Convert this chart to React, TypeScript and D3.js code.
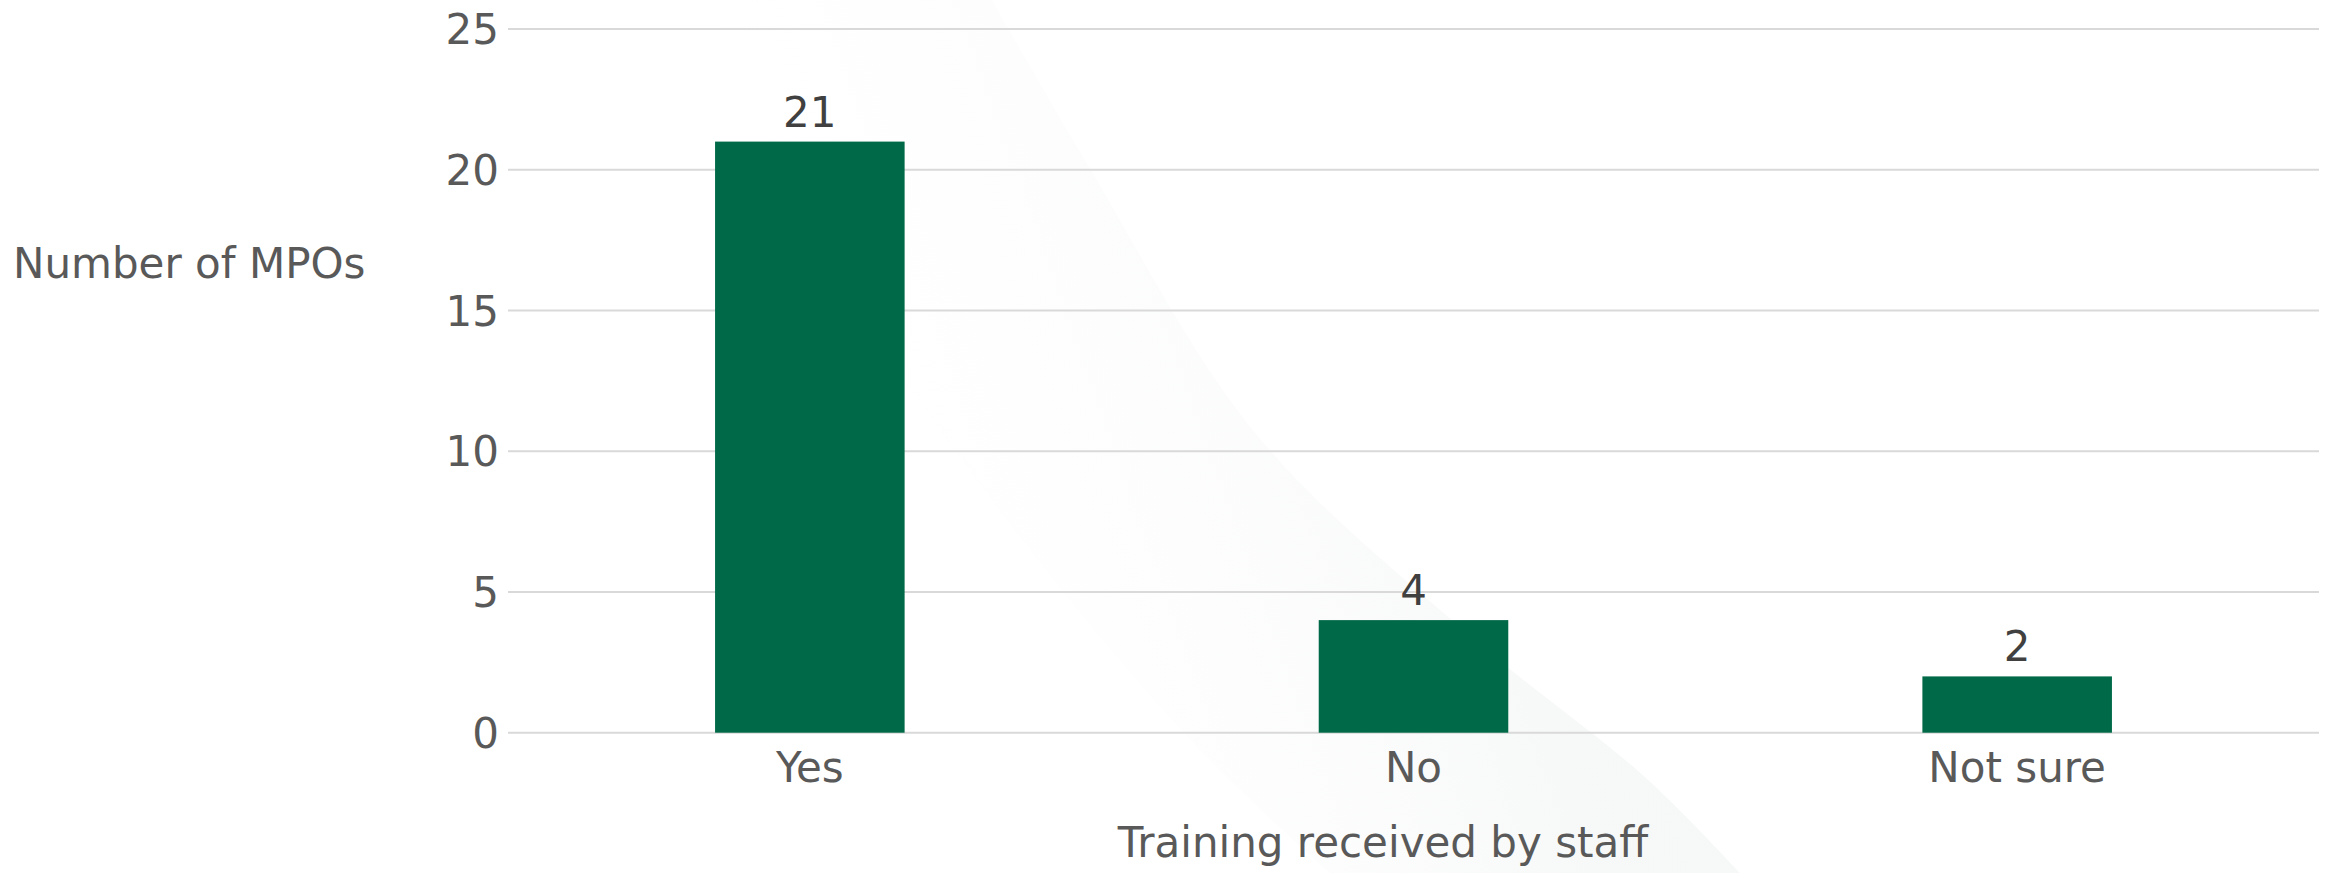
import React from "react";
import * as d3 from "d3";

const categories = ["Yes", "No", "Not sure"];
const values = [21, 4, 2];
const yTicks = [0, 5, 10, 15, 20, 25];
const yTitle = "Number of MPOs";
const xTitle = "Training received by staff";

const W = 2331;
const H = 873;
const M = { left: 508, right: 2319, top: 29, bottom: 732.7 };
const FONT = "'DejaVu Sans', sans-serif";

export default function App() {
  const x = d3
    .scaleBand<string>()
    .domain(categories)
    .range([M.left, M.right])
    .paddingInner(0.686)
    .paddingOuter(0.343);
  const y = d3.scaleLinear().domain([0, 25]).range([M.bottom, M.top]);

  const right = d3.line().curve(d3.curveCatmullRom)([
    [992, 0],
    [1089, 167],
    [1256, 434],
    [1474, 639],
    [1646, 778],
    [1740, 873],
  ] as [number, number][]);
  const left = d3.line().curve(d3.curveCatmullRom)([
    [1330, 873],
    [1200, 750],
    [1006, 520],
    [820, 250],
    [712, 0],
  ] as [number, number][]);
  const swoosh = (right || "") + " L" + (left || "").slice(1) + " Z";

  return (
    <svg
      width={W}
      height={H}
      style={{ position: "absolute", left: 0, top: 0, background: "#fff" }}
      fontFamily={FONT}
    >
      <defs>
        <linearGradient id="sw" x1="0" y1="0.3" x2="1" y2="0">
          <stop offset="0" stopColor="#ffffff" stopOpacity="0" />
          <stop offset="0.6" stopColor="#f6f8f7" stopOpacity="0.9" />
          <stop offset="1" stopColor="#f5f8f7" stopOpacity="1" />
        </linearGradient>
      </defs>
      <path d={swoosh} fill="url(#sw)" />

      {yTicks.map((t) => (
        <g key={t}>
          <line
            x1={M.left}
            x2={M.right}
            y1={y(t)}
            y2={y(t)}
            stroke="#d9d9d9"
            strokeWidth={2}
          />
          <text
            x={499}
            y={y(t)}
            dy="0.36em"
            textAnchor="end"
            fontSize={42}
            fill="#595959"
          >
            {t}
          </text>
        </g>
      ))}

      {categories.map((c, i) => (
        <g key={c}>
          <rect
            x={x(c)}
            y={y(values[i])}
            width={x.bandwidth()}
            height={y(0) - y(values[i])}
            fill="#006947"
          />
          <text
            x={(x(c) as number) + x.bandwidth() / 2}
            y={y(values[i]) - 15}
            textAnchor="middle"
            fontSize={42}
            fill="#404040"
          >
            {values[i]}
          </text>
          <text
            x={(x(c) as number) + x.bandwidth() / 2}
            y={782}
            textAnchor="middle"
            fontSize={42}
            fill="#595959"
          >
            {c}
          </text>
        </g>
      ))}

      <text x={13} y={278} fontSize={42} fill="#595959">
        {yTitle}
      </text>
      <text x={1383} y={857} textAnchor="middle" fontSize={42} fill="#595959">
        {xTitle}
      </text>
    </svg>
  );
}
